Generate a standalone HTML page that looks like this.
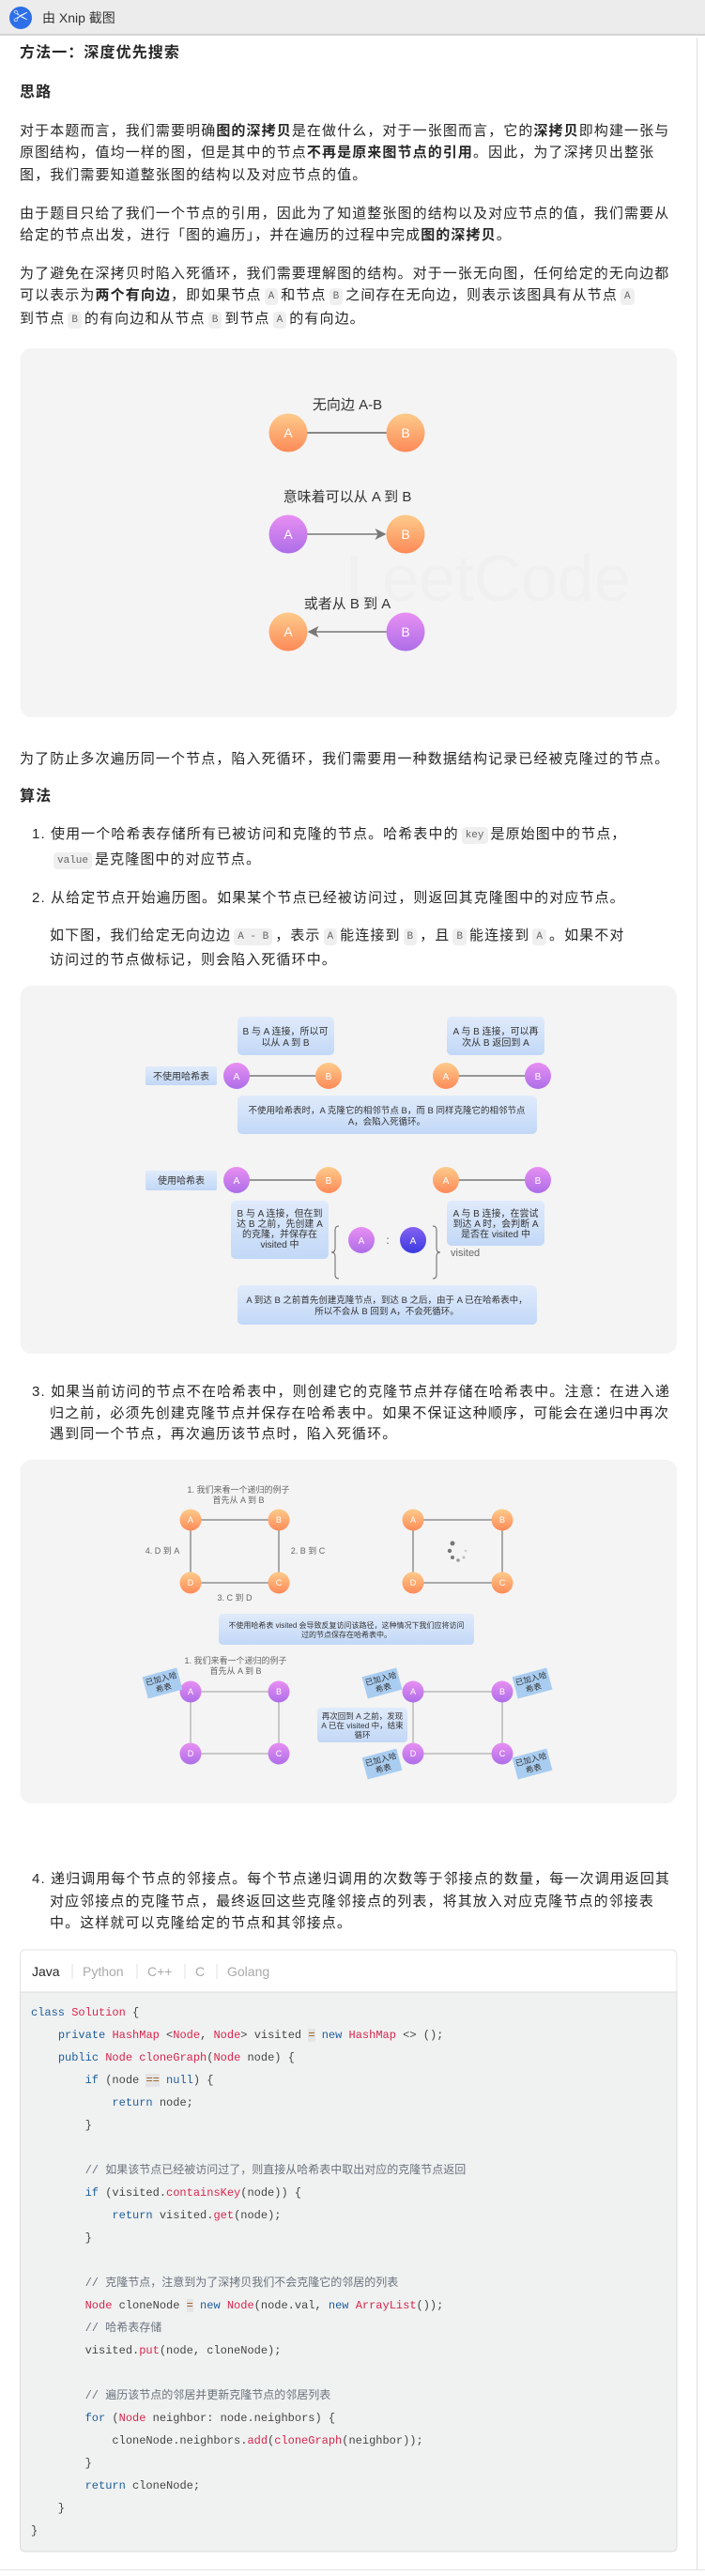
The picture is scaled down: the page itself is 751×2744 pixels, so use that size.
<!DOCTYPE html>
<html><head><meta charset="utf-8">
<style>
*{margin:0;padding:0;box-sizing:border-box}
html,body{width:751px;height:2744px;background:#fff;overflow:hidden}
body{position:relative;font-family:"Liberation Sans","Noto Sans CJK SC",sans-serif;color:#262626}
.bar{position:absolute;left:0;top:0;width:751px;height:38px;background:#ececec;border-bottom:2px solid #d4d4d4}
.bar .logo{position:absolute;left:10px;top:7px;width:24px;height:24px;border-radius:50%;background:#2d6fe8;color:#fff;font-weight:bold;font-size:16px;text-align:center;line-height:24px}
.bar .t{position:absolute;left:45px;top:9px;font-size:14px;color:#333}
.ln{position:absolute;height:22px;line-height:22px;white-space:nowrap;font-size:15px;letter-spacing:1.1px}
.h{font-weight:bold;font-size:16px}
b{font-weight:bold}
.c{display:inline-block;background:#efefef;border-radius:4px;font-family:"Liberation Mono",monospace;font-size:11px;letter-spacing:0;color:#666;padding:0 4px;line-height:18px;margin:0 3px;vertical-align:1px}
.code{position:absolute;left:33px;height:24px;line-height:24px;font-family:"Liberation Mono","Noto Sans CJK SC",monospace;font-size:12px;white-space:pre;color:#444}
.k{color:#1d5e9c}.r{color:#d7264d}.cm{color:#6a737d}.op{color:#9a5a1a;background:#e4e4e4}
</style></head><body>
<div class="bar"><div class="logo">✂</div><div class="t">由 Xnip 截图</div></div>
<div style="position:absolute;left:742px;top:40px;width:1px;height:2697px;background:#e2e2e2"></div>
<div style="position:absolute;left:0;top:2737px;width:751px;height:1px;background:#e2e2e2"></div>

<div class="ln h" style="left:21px;top:46px;">方法一：深度优先搜索</div>
<div class="ln h" style="left:21px;top:88px;">思路</div>
<div class="ln" style="left:21px;top:129px">对于本题而言，我们需要明确<b>图的深拷贝</b>是在做什么，对于一张图而言，它的<b>深拷贝</b>即构建一张与</div>
<div class="ln" style="left:21px;top:152px">原图结构，值均一样的图，但是其中的节点<b>不再是原来图节点的引用</b>。因此，为了深拷贝出整张</div>
<div class="ln" style="left:21px;top:176px">图，我们需要知道整张图的结构以及对应节点的值。</div>
<div class="ln" style="left:21px;top:217px">由于题目只给了我们一个节点的引用，因此为了知道整张图的结构以及对应节点的值，我们需要从</div>
<div class="ln" style="left:21px;top:240px">给定的节点出发，进行「图的遍历」，并在遍历的过程中完成<b>图的深拷贝</b>。</div>
<div class="ln" style="left:21px;top:281px">为了避免在深拷贝时陷入死循环，我们需要理解图的结构。对于一张无向图，任何给定的无向边都</div>
<div class="ln" style="left:21px;top:304px">可以表示为<b>两个有向边</b>，即如果节点<span class="c">A</span>和节点<span class="c">B</span>之间存在无向边，则表示该图具有从节点<span class="c">A</span></div>
<div class="ln" style="left:21px;top:329px">到节点<span class="c">B</span>的有向边和从节点<span class="c">B</span>到节点<span class="c">A</span>的有向边。</div>

<div class="ln" style="left:21px;top:798px">为了防止多次遍历同一个节点，陷入死循环，我们需要用一种数据结构记录已经被克隆过的节点。</div>
<div class="ln h" style="left:21px;top:838px">算法</div>
<div class="ln" style="left:34px;top:878px">1. 使用一个哈希表存储所有已被访问和克隆的节点。哈希表中的<span class="c">key</span>是原始图中的节点，</div>
<div class="ln" style="left:53px;top:905px"><span class="c" style="margin-left:4px">value</span>是克隆图中的对应节点。</div>
<div class="ln" style="left:34px;top:946px">2. 从给定节点开始遍历图。如果某个节点已经被访问过，则返回其克隆图中的对应节点。</div>
<div class="ln" style="left:53px;top:986px">如下图，我们给定无向边边<span class="c">A - B</span>，表示<span class="c">A</span>能连接到<span class="c">B</span>，且<span class="c">B</span>能连接到<span class="c">A</span>。如果不对</div>
<div class="ln" style="left:53px;top:1012px">访问过的节点做标记，则会陷入死循环中。</div>

<div class="ln" style="left:34px;top:1472px">3. 如果当前访问的节点不在哈希表中，则创建它的克隆节点并存储在哈希表中。注意：在进入递</div>
<div class="ln" style="left:53px;top:1495px">归之前，必须先创建克隆节点并保存在哈希表中。如果不保证这种顺序，可能会在递归中再次</div>
<div class="ln" style="left:53px;top:1517px">遇到同一个节点，再次遍历该节点时，陷入死循环。</div>

<div class="ln" style="left:34px;top:1991px">4. 递归调用每个节点的邻接点。每个节点递归调用的次数等于邻接点的数量，每一次调用返回其</div>
<div class="ln" style="left:53px;top:2015px">对应邻接点的克隆节点，最终返回这些克隆邻接点的列表，将其放入对应克隆节点的邻接表</div>
<div class="ln" style="left:53px;top:2038px">中。这样就可以克隆给定的节点和其邻接点。</div>

<svg style="position:absolute;left:0;top:0" width="751" height="2744" xmlns="http://www.w3.org/2000/svg" font-family="Liberation Sans, Noto Sans CJK SC, sans-serif">
<defs>
<linearGradient id="og" x1="0" y1="0" x2="0" y2="1"><stop offset="0" stop-color="#fdcb8b"/><stop offset="1" stop-color="#fd8a58"/></linearGradient>
<linearGradient id="pg" x1="0" y1="0" x2="0" y2="1"><stop offset="0" stop-color="#e88ff2"/><stop offset="1" stop-color="#ad6ee8"/></linearGradient>
<linearGradient id="vg" x1="0" y1="0" x2="0" y2="1"><stop offset="0" stop-color="#8662f3"/><stop offset="1" stop-color="#3a3ae0"/></linearGradient>
<linearGradient id="bg" x1="0" y1="0" x2="0" y2="1"><stop offset="0" stop-color="#e0ebfb"/><stop offset="1" stop-color="#c2d8f7"/></linearGradient>
<marker id="ar" markerWidth="8" markerHeight="8" refX="7" refY="4" orient="auto"><path d="M0,0 L8,4 L0,8 L2,4z" fill="#777"/></marker>
</defs>

<rect x="21.5" y="371" width="699.5" height="393" rx="12" fill="#f4f4f4"/>
<text x="520" y="640" font-size="70" fill="#f0f0f0" text-anchor="middle">LeetCode</text>
<text x="370" y="436" font-size="15" fill="#333" text-anchor="middle">无向边 A-B</text>
<line x1="327" y1="461" x2="412" y2="461" stroke="#888" stroke-width="2"/>
<circle cx="307" cy="461" r="20.5" fill="url(#og)"/><text x="307" y="466" font-size="14" fill="#fff" text-anchor="middle">A</text>
<circle cx="432" cy="461" r="20.5" fill="url(#og)"/><text x="432" y="466" font-size="14" fill="#fff" text-anchor="middle">B</text>
<text x="370" y="534" font-size="15" fill="#333" text-anchor="middle">意味着可以从 A 到 B</text>
<line x1="327" y1="569" x2="410" y2="569" stroke="#777" stroke-width="1.5" marker-end="url(#ar)"/>
<circle cx="307" cy="569" r="20.5" fill="url(#pg)"/><text x="307" y="574" font-size="14" fill="#fff" text-anchor="middle">A</text>
<circle cx="432" cy="569" r="20.5" fill="url(#og)"/><text x="432" y="574" font-size="14" fill="#fff" text-anchor="middle">B</text>
<text x="370" y="648" font-size="15" fill="#333" text-anchor="middle">或者从 B 到 A</text>
<line x1="412" y1="673" x2="329" y2="673" stroke="#777" stroke-width="1.5" marker-end="url(#ar)"/>
<circle cx="307" cy="673" r="20.5" fill="url(#og)"/><text x="307" y="678" font-size="14" fill="#fff" text-anchor="middle">A</text>
<circle cx="432" cy="673" r="20.5" fill="url(#pg)"/><text x="432" y="678" font-size="14" fill="#fff" text-anchor="middle">B</text>

<rect x="21.5" y="1050" width="699.5" height="392" rx="12" fill="#f4f4f4"/>
<g font-size="10" fill="#333" text-anchor="middle">
<rect x="253" y="1083" width="103" height="41" rx="5" fill="url(#bg)"/>
<text x="304" y="1102">B 与 A 连接，所以可</text><text x="304" y="1114">以从 A 到 B</text>
<rect x="476" y="1083" width="104" height="41" rx="5" fill="url(#bg)"/>
<text x="528" y="1102">A 与 B 连接，可以再</text><text x="528" y="1114">次从 B 返回到 A</text>
<rect x="155" y="1136" width="76" height="20" rx="2" fill="url(#bg)"/>
<text x="193" y="1150">不使用哈希表</text>
<rect x="253" y="1167" width="319" height="41" rx="5" fill="url(#bg)"/>
<text x="412" y="1186" font-size="9.5">不使用哈希表时，A 克隆它的相邻节点 B，而 B 同样克隆它的相邻节点</text>
<text x="412" y="1198" font-size="9.5">A，会陷入死循环。</text>
<rect x="155" y="1247" width="76" height="21" rx="2" fill="url(#bg)"/>
<text x="193" y="1261">使用哈希表</text>
<rect x="246" y="1279" width="104" height="62" rx="5" fill="url(#bg)"/>
<text x="298" y="1296">B 与 A 连接，但在到</text><text x="298" y="1307">达 B 之前，先创建 A</text><text x="298" y="1318">的克隆，并保存在</text><text x="298" y="1329">visited 中</text>
<rect x="476" y="1279" width="104" height="48" rx="5" fill="url(#bg)"/>
<text x="528" y="1296">A 与 B 连接，在尝试</text><text x="528" y="1307">到达 A 时，会判断 A</text><text x="528" y="1318">是否在 visited 中</text>
<rect x="253" y="1369" width="319" height="42" rx="5" fill="url(#bg)"/>
<text x="412" y="1388" font-size="9.5">A 到达 B 之前首先创建克隆节点，到达 B 之后，由于 A 已在哈希表中，</text>
<text x="412" y="1400" font-size="9.5">所以不会从 B 回到 A，不会死循环。</text>
</g>
<g stroke="#777" stroke-width="1.5">
<line x1="252" y1="1146" x2="350" y2="1146"/><line x1="475" y1="1146" x2="573" y2="1146"/>
<line x1="252" y1="1257" x2="350" y2="1257"/><line x1="475" y1="1257" x2="573" y2="1257"/>
</g>
<g font-size="10" fill="#fff" text-anchor="middle">
<circle cx="252" cy="1146" r="14" fill="url(#pg)"/><text x="252" y="1150">A</text>
<circle cx="350" cy="1146" r="14" fill="url(#og)"/><text x="350" y="1150">B</text>
<circle cx="475" cy="1146" r="14" fill="url(#og)"/><text x="475" y="1150">A</text>
<circle cx="573" cy="1146" r="14" fill="url(#pg)"/><text x="573" y="1150">B</text>
<circle cx="252" cy="1257" r="14" fill="url(#pg)"/><text x="252" y="1261">A</text>
<circle cx="350" cy="1257" r="14" fill="url(#og)"/><text x="350" y="1261">B</text>
<circle cx="475" cy="1257" r="14" fill="url(#og)"/><text x="475" y="1261">A</text>
<circle cx="573" cy="1257" r="14" fill="url(#pg)"/><text x="573" y="1261">B</text>
<circle cx="385" cy="1321" r="14" fill="url(#pg)"/><text x="385" y="1325">A</text>
<circle cx="440" cy="1321" r="14" fill="url(#vg)"/><text x="440" y="1325">A</text>
</g>
<text x="413" y="1325" font-size="12" fill="#555" text-anchor="middle">:</text>
<path d="M361,1306 Q357,1306 357,1310 L357,1330 Q357,1334 353,1334 Q357,1334 357,1338 L357,1358 Q357,1362 361,1362" fill="none" stroke="#666" stroke-width="1"/>
<path d="M461,1306 Q465,1306 465,1310 L465,1330 Q465,1334 469,1334 Q465,1334 465,1338 L465,1358 Q465,1362 461,1362" fill="none" stroke="#666" stroke-width="1"/>
<text x="480" y="1338" font-size="11" fill="#666">visited</text>

<rect x="21.5" y="1555" width="699.5" height="366" rx="12" fill="#f4f4f4"/>
<g font-size="9" fill="#666" text-anchor="middle">
<text x="254" y="1590">1. 我们来看一个递归的例子</text><text x="254" y="1601">首先从 A 到 B</text>
<text x="173" y="1655">4. D 到 A</text><text x="328" y="1655">2. B 到 C</text><text x="250" y="1705">3. C 到 D</text>
<text x="251" y="1772">1. 我们来看一个递归的例子</text><text x="251" y="1783">首先从 A 到 B</text>
</g>
<g stroke="#777" stroke-width="1.2" fill="none">
<rect x="203" y="1619" width="94" height="67"/><rect x="440" y="1619" width="95" height="67"/>
</g>
<g stroke="#aaa" stroke-width="1.2" fill="none">
<rect x="203" y="1802" width="94" height="66"/><rect x="440" y="1802" width="95" height="66"/>
</g>
<g fill="#777"><circle cx="482" cy="1644" r="2.5"/><circle cx="479" cy="1652" r="2.2"/><circle cx="482" cy="1659" r="2"/><circle cx="488" cy="1662" r="1.8" fill="#999"/><circle cx="494" cy="1659" r="1.5" fill="#bbb"/><circle cx="496" cy="1652" r="1.3" fill="#ccc"/></g>
<g font-size="9" fill="#fff" text-anchor="middle">
<circle cx="203" cy="1619" r="11.5" fill="url(#og)"/><text x="203" y="1622">A</text>
<circle cx="297" cy="1619" r="11.5" fill="url(#og)"/><text x="297" y="1622">B</text>
<circle cx="203" cy="1686" r="11.5" fill="url(#og)"/><text x="203" y="1689">D</text>
<circle cx="297" cy="1686" r="11.5" fill="url(#og)"/><text x="297" y="1689">C</text>
<circle cx="440" cy="1619" r="11.5" fill="url(#og)"/><text x="440" y="1622">A</text>
<circle cx="535" cy="1619" r="11.5" fill="url(#og)"/><text x="535" y="1622">B</text>
<circle cx="440" cy="1686" r="11.5" fill="url(#og)"/><text x="440" y="1689">D</text>
<circle cx="535" cy="1686" r="11.5" fill="url(#og)"/><text x="535" y="1689">C</text>
<circle cx="203" cy="1802" r="11.5" fill="url(#pg)"/><text x="203" y="1805">A</text>
<circle cx="297" cy="1802" r="11.5" fill="url(#pg)"/><text x="297" y="1805">B</text>
<circle cx="203" cy="1868" r="11.5" fill="url(#pg)"/><text x="203" y="1871">D</text>
<circle cx="297" cy="1868" r="11.5" fill="url(#pg)"/><text x="297" y="1871">C</text>
<circle cx="440" cy="1802" r="11.5" fill="url(#pg)"/><text x="440" y="1805">A</text>
<circle cx="535" cy="1802" r="11.5" fill="url(#pg)"/><text x="535" y="1805">B</text>
<circle cx="440" cy="1868" r="11.5" fill="url(#pg)"/><text x="440" y="1871">D</text>
<circle cx="535" cy="1868" r="11.5" fill="url(#pg)"/><text x="535" y="1871">C</text>
</g>
<rect x="233" y="1719" width="272" height="33" rx="4" fill="url(#bg)"/>
<g font-size="8" fill="#333" text-anchor="middle">
<text x="369" y="1734">不使用哈希表 visited 会导致反复访问该路径，这种情况下我们应将访问</text>
<text x="369" y="1744">过的节点保存在哈希表中。</text>
</g>
<rect x="338" y="1819" width="96" height="37" rx="4" fill="url(#bg)"/>
<g font-size="8.5" fill="#333" text-anchor="middle">
<text x="386" y="1831">再次回到 A 之前，发现</text><text x="386" y="1841">A 已在 visited 中，结束</text><text x="386" y="1851">循环</text>
</g>
<g font-size="8.5" fill="#333" text-anchor="middle">
<g transform="translate(173,1793) rotate(-15)"><rect x="-19" y="-12" width="38" height="24" fill="#a9cdf1"/><text x="0" y="-2">已加入哈</text><text x="0" y="8">希表</text></g>
<g transform="translate(407,1793) rotate(-15)"><rect x="-19" y="-12" width="38" height="24" fill="#a9cdf1"/><text x="0" y="-2">已加入哈</text><text x="0" y="8">希表</text></g>
<g transform="translate(567,1793) rotate(-15)"><rect x="-19" y="-12" width="38" height="24" fill="#a9cdf1"/><text x="0" y="-2">已加入哈</text><text x="0" y="8">希表</text></g>
<g transform="translate(407,1879) rotate(-15)"><rect x="-19" y="-12" width="38" height="24" fill="#a9cdf1"/><text x="0" y="-2">已加入哈</text><text x="0" y="8">希表</text></g>
<g transform="translate(567,1879) rotate(-15)"><rect x="-19" y="-12" width="38" height="24" fill="#a9cdf1"/><text x="0" y="-2">已加入哈</text><text x="0" y="8">希表</text></g>
</g>

<path d="M21.5,2122 L21.5,2083 Q21.5,2077 27.5,2077 L715,2077 Q721,2077 721,2083 L721,2122 Z" fill="#fff" stroke="#e3e3e3"/>
<path d="M21.5,2122 L721,2122 L721,2712 Q721,2718 715,2718 L27.5,2718 Q21.5,2718 21.5,2712 Z" fill="#f0f1f1" stroke="#dcdcdc"/>
<g font-size="14">
<text x="34" y="2105" fill="#262626">Java</text>
<text x="88" y="2105" fill="#aaa">Python</text>
<text x="157" y="2105" fill="#aaa">C++</text>
<text x="208" y="2105" fill="#aaa">C</text>
<text x="242" y="2105" fill="#aaa">Golang</text>
</g>
<g stroke="#e2e2e2"><line x1="77" y1="2092" x2="77" y2="2108"/><line x1="146" y1="2092" x2="146" y2="2108"/><line x1="197" y1="2092" x2="197" y2="2108"/><line x1="231" y1="2092" x2="231" y2="2108"/></g>
</svg>

<div class="code" style="top:2132px"><span class="k">class</span> <span class="r">Solution</span> {</div>
<div class="code" style="top:2156px">    <span class="k">private</span> <span class="r">HashMap</span> &lt;<span class="r">Node</span>, <span class="r">Node</span>&gt; visited <span class="op">=</span> <span class="k">new</span> <span class="r">HashMap</span> &lt;&gt; ();</div>
<div class="code" style="top:2180px">    <span class="k">public</span> <span class="r">Node</span> <span class="r">cloneGraph</span>(<span class="r">Node</span> node) {</div>
<div class="code" style="top:2204px">        <span class="k">if</span> (node <span class="op">==</span> <span class="k">null</span>) {</div>
<div class="code" style="top:2228px">            <span class="k">return</span> node;</div>
<div class="code" style="top:2252px">        }</div>
<div class="code" style="top:2300px">        <span class="cm">// 如果该节点已经被访问过了，则直接从哈希表中取出对应的克隆节点返回</span></div>
<div class="code" style="top:2324px">        <span class="k">if</span> (visited.<span class="r">containsKey</span>(node)) {</div>
<div class="code" style="top:2348px">            <span class="k">return</span> visited.<span class="r">get</span>(node);</div>
<div class="code" style="top:2372px">        }</div>
<div class="code" style="top:2420px">        <span class="cm">// 克隆节点，注意到为了深拷贝我们不会克隆它的邻居的列表</span></div>
<div class="code" style="top:2444px">        <span class="r">Node</span> cloneNode <span class="op">=</span> <span class="k">new</span> <span class="r">Node</span>(node.val, <span class="k">new</span> <span class="r">ArrayList</span>());</div>
<div class="code" style="top:2468px">        <span class="cm">// 哈希表存储</span></div>
<div class="code" style="top:2492px">        visited.<span class="r">put</span>(node, cloneNode);</div>
<div class="code" style="top:2540px">        <span class="cm">// 遍历该节点的邻居并更新克隆节点的邻居列表</span></div>
<div class="code" style="top:2564px">        <span class="k">for</span> (<span class="r">Node</span> neighbor: node.neighbors) {</div>
<div class="code" style="top:2588px">            cloneNode.neighbors.<span class="r">add</span>(<span class="r">cloneGraph</span>(neighbor));</div>
<div class="code" style="top:2612px">        }</div>
<div class="code" style="top:2636px">        <span class="k">return</span> cloneNode;</div>
<div class="code" style="top:2660px">    }</div>
<div class="code" style="top:2684px">}</div>
</body></html>
